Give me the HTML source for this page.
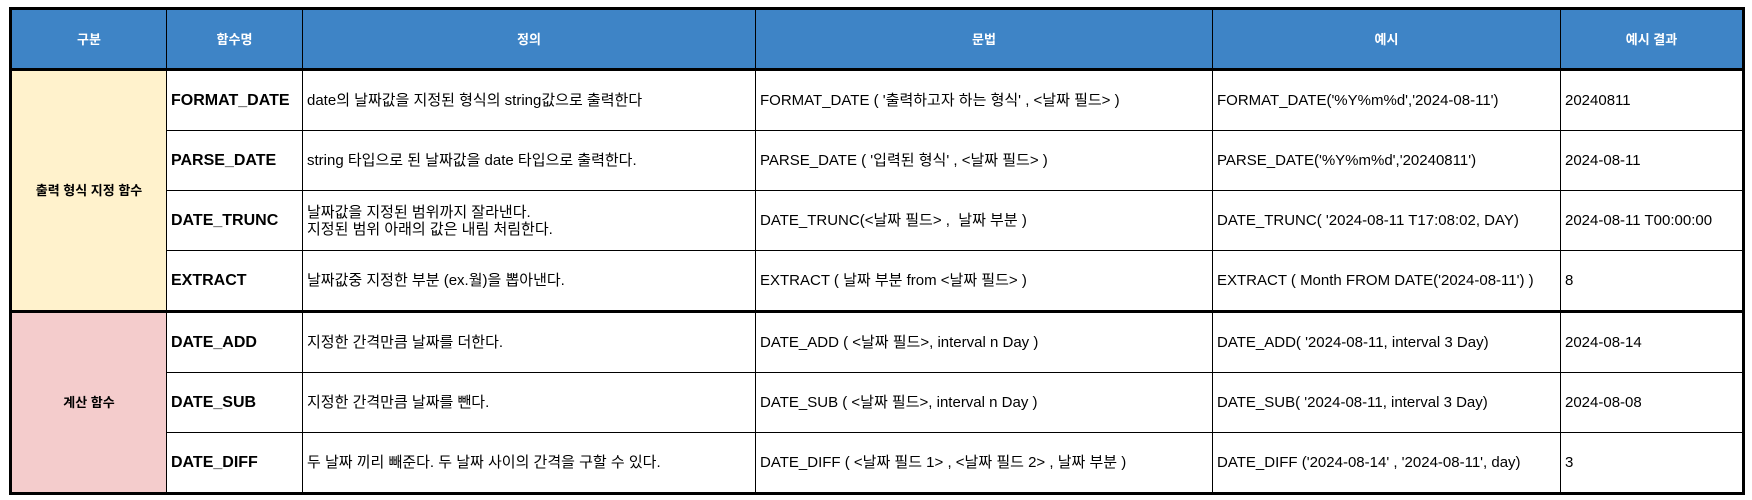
<!DOCTYPE html>
<html><head><meta charset="utf-8"><style>
body{margin:0;background:#fff;width:1752px;height:500px;overflow:hidden;font-family:"Liberation Sans","Noto Sans CJK KR",sans-serif;}
table{position:absolute;left:9px;top:7px;border-collapse:collapse;table-layout:fixed;border:3px solid #000;}
td,th{border:1px solid #000;padding:0 0 0 4px;font-size:15px;color:#000;white-space:nowrap;line-height:17px;}
th{background:#3e84c6;color:#fff;font-size:13px;font-weight:bold;text-align:center;height:58px;padding:0;}
tr.hd th{border-bottom:3px solid #000;}
td{height:59px;}
td.cat{text-align:center;font-weight:bold;font-size:13px;padding:0;}
td.y{background:#fff2cc;}
td.p{background:#f4cccc;}
td.fn{font-weight:bold;font-size:16px;}
tr.sec td{border-top:3px solid #000;}
</style></head><body>
<table>
<colgroup><col style="width:156px"><col style="width:136px"><col style="width:453px"><col style="width:457px"><col style="width:348px"><col style="width:183px"></colgroup>
<tr class="hd">
<th>구분</th>
<th>함수명</th>
<th>정의</th>
<th>문법</th>
<th>예시</th>
<th>예시 결과</th>
</tr>
<tr>
<td class="cat y" rowspan="4">출력 형식 지정 함수</td>
<td class="fn">FORMAT_DATE</td>
<td>date의 날짜값을 지정된 형식의 string값으로 출력한다</td>
<td>FORMAT_DATE ( '출력하고자 하는 형식' , &lt;날짜 필드&gt; )</td>
<td>FORMAT_DATE('%Y%m%d','2024-08-11')</td>
<td>20240811</td>
</tr>
<tr>
<td class="fn">PARSE_DATE</td>
<td>string 타입으로 된 날짜값을 date 타입으로 출력한다.</td>
<td>PARSE_DATE ( '입력된 형식' , &lt;날짜 필드&gt; )</td>
<td>PARSE_DATE('%Y%m%d','20240811')</td>
<td>2024-08-11</td>
</tr>
<tr>
<td class="fn">DATE_TRUNC</td>
<td>날짜값을 지정된 범위까지 잘라낸다.<br>지정된 범위 아래의 값은 내림 처림한다.</td>
<td>DATE_TRUNC(&lt;날짜 필드&gt; ,&nbsp; 날짜 부분 )</td>
<td>DATE_TRUNC( '2024-08-11 T17:08:02, DAY)</td>
<td>2024-08-11 T00:00:00</td>
</tr>
<tr>
<td class="fn">EXTRACT</td>
<td>날짜값중 지정한 부분 (ex.월)을 뽑아낸다.</td>
<td>EXTRACT ( 날짜 부분 from &lt;날짜 필드&gt; )</td>
<td>EXTRACT ( Month FROM DATE('2024-08-11') )</td>
<td>8</td>
</tr>
<tr class="sec">
<td class="cat p" rowspan="3">계산 함수</td>
<td class="fn">DATE_ADD</td>
<td>지정한 간격만큼 날짜를 더한다.</td>
<td>DATE_ADD ( &lt;날짜 필드&gt;, interval n Day )</td>
<td>DATE_ADD( '2024-08-11, interval 3 Day)</td>
<td>2024-08-14</td>
</tr>
<tr>
<td class="fn">DATE_SUB</td>
<td>지정한 간격만큼 날짜를 뺀다.</td>
<td>DATE_SUB ( &lt;날짜 필드&gt;, interval n Day )</td>
<td>DATE_SUB( '2024-08-11, interval 3 Day)</td>
<td>2024-08-08</td>
</tr>
<tr>
<td class="fn">DATE_DIFF</td>
<td>두 날짜 끼리 빼준다. 두 날짜 사이의 간격을 구할 수 있다.</td>
<td>DATE_DIFF ( &lt;날짜 필드 1&gt; , &lt;날짜 필드 2&gt; , 날짜 부분 )</td>
<td>DATE_DIFF ('2024-08-14' , '2024-08-11', day)</td>
<td>3</td>
</tr>
</table>
</body></html>
